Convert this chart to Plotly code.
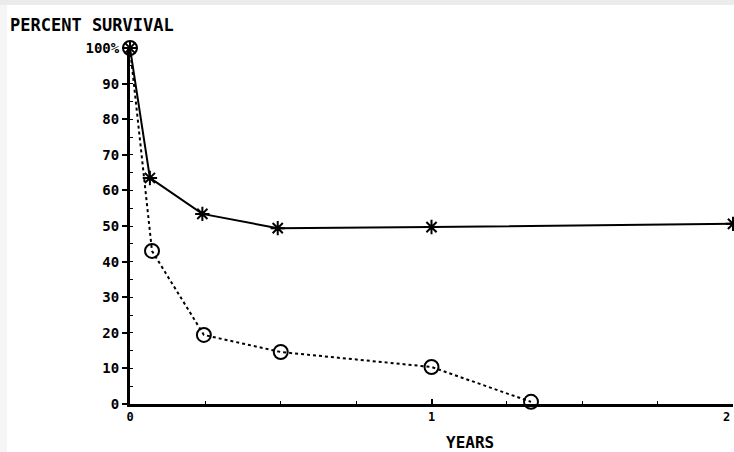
import plotly.graph_objects as go

# Data
years_a = [0, 0.066, 0.24, 0.49, 1.0, 2.0]
surv_a = [100, 63.5, 53.4, 49.4, 49.7, 50.6]
years_b = [0, 0.073, 0.245, 0.5, 1.0, 1.33]
surv_b = [100, 43.0, 19.4, 14.6, 10.4, 0.6]
y_ticks = [0, 10, 20, 30, 40, 50, 60, 70, 80, 90, 100]
y_tick_labels = ["0", "10", "20", "30", "40", "50", "60", "70", "80", "90", "100%"]
x_ticks = [0, 1, 2]
x_tick_labels = ["0", "1", "2"]

FONT = "DejaVu Sans Mono"
L, T, PW, PH = 130, 48, 603, 356  # plot area in px

fig = go.Figure()
fig.add_trace(go.Scatter(
    x=years_b, y=surv_b, mode="lines+markers",
    line=dict(color="black", width=2, dash="dot"),
    marker=dict(symbol="circle-open", size=14, color="black", line=dict(width=2)),
    cliponaxis=False, showlegend=False))
fig.add_trace(go.Scatter(
    x=years_a, y=surv_a, mode="lines+markers",
    line=dict(color="black", width=2),
    marker=dict(symbol="asterisk-open", size=12, color="black", line=dict(width=2)),
    cliponaxis=False, showlegend=False))

def px_x(p):
    return (p - L) / PW

def px_y(p):
    return 1 - (p - T) / PH

# the last tick label sits at the right edge; draw it right-aligned so it stays visible
shown_x_labels = x_tick_labels[:-1] + [""]

fig.update_layout(
    width=734, height=452,
    margin=dict(l=L, r=1, t=T, b=48, autoexpand=False),
    paper_bgcolor="white", plot_bgcolor="white",
    font=dict(family=FONT, color="black"),
    xaxis=dict(range=[0, 2], tickvals=x_ticks, ticktext=shown_x_labels, automargin=False,
               ticklabeloverflow="allow",
               showgrid=False, zeroline=False, showline=True, linecolor="black",
               linewidth=3, ticks="inside", ticklen=5, tickwidth=2, tickcolor="black",
               tickfont=dict(family=FONT, size=12, weight="bold"),
               minor=dict(dtick=0.25, ticks="inside", ticklen=3, tickcolor="black", tickwidth=1)),
    yaxis=dict(range=[0, 100], tickvals=y_ticks, ticktext=y_tick_labels, automargin=False,
               showgrid=False, zeroline=False, showline=True, linecolor="black",
               linewidth=3, ticks="outside", ticklen=5, tickwidth=2, tickcolor="black",
               tickfont=dict(family=FONT, size=14, weight="bold"),
               minor=dict(dtick=5, ticks="inside", ticklen=3, tickcolor="black", tickwidth=1)),
    annotations=[
        dict(text="PERCENT SURVIVAL", xref="paper", yref="paper",
             x=px_x(8), y=px_y(25), xanchor="left", yanchor="middle",
             showarrow=False, font=dict(family=FONT, size=17, weight="bold")),
        dict(text="YEARS", xref="paper", yref="paper",
             x=px_x(470), y=px_y(442), xanchor="center", yanchor="middle",
             showarrow=False, font=dict(family=FONT, size=16, weight="bold")),
        dict(text=x_tick_labels[-1], xref="x", yref="paper",
             x=x_ticks[-1], y=px_y(417), xanchor="right", yanchor="middle", xshift=-1,
             showarrow=False, font=dict(family=FONT, size=12, weight="bold")),
    ],
    shapes=[
        dict(type="rect", xref="paper", yref="paper", x0=px_x(0), x1=px_x(734),
             y0=px_y(5), y1=px_y(0), fillcolor="#ebebeb", line=dict(width=0), layer="below"),
        dict(type="rect", xref="paper", yref="paper", x0=px_x(0), x1=px_x(7),
             y0=px_y(452), y1=px_y(5), fillcolor="#f5f5f5", line=dict(width=0), layer="below"),
    ],
)

fig.write_html(
    "out.html",
    config={"displayModeBar": False},
    post_script="document.body.style.margin='0';"
                "document.body.style.overflow='hidden';"
                "document.documentElement.style.overflow='hidden';",
)
